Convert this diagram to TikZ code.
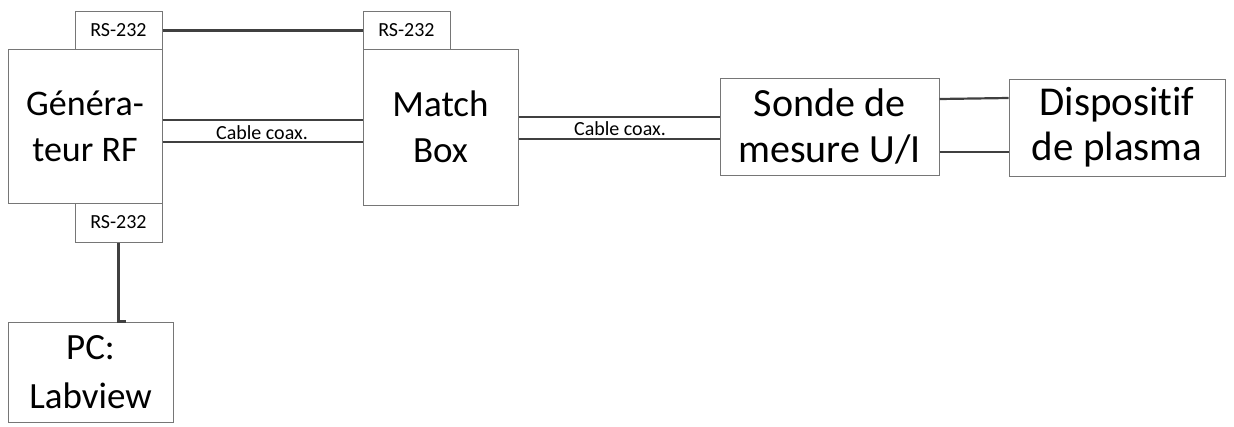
\documentclass[tikz,border=0pt]{standalone}
\usepackage{fontspec}
\setmainfont{Carlito}[Ligatures=NoCommon]
\definecolor{boxgray}{RGB}{118,118,118}
\definecolor{wiregray}{RGB}{64,64,64}
\tikzset{
  bigbox/.style={draw=boxgray, line width=1pt, fill=white, inner sep=0pt, align=center},
  portbox/.style={draw=boxgray, line width=1pt, fill=white, inner sep=0pt,
    font=\fontsize{20}{24}\selectfont},
  wire/.style={draw=wiregray, line width=3pt},
  coax/.style={draw=wiregray, line width=2.2pt},
  cablelabel/.style={font=\fontsize{20}{24}\selectfont, inner sep=0pt, anchor=base}
}
\begin{document}
\begin{tikzpicture}[x=1pt, y=-1pt]
\useasboundingbox (0,0) rectangle (1234,426);
% boxes
\node[bigbox, font=\fontsize{36}{46}\selectfont, minimum width=154pt, minimum height=154pt] (gen) at (85,126) {Généra-\\teur RF};
\node[portbox, minimum width=87pt, minimum height=38pt] (rsg) at (118.5,30) {RS-232};
\node[portbox, minimum width=87pt, minimum height=39pt] (rsb) at (118.5,222.5) {RS-232};
\node[bigbox, font=\fontsize{37}{46}\selectfont, minimum width=155pt, minimum height=156pt] (match) at (440.5,127) {Match\\Box};
\node[portbox, minimum width=87pt, minimum height=38pt] (rsm) at (406.5,30) {RS-232};
\node[bigbox, font=\fontsize{40}{46}\selectfont, minimum width=219pt, minimum height=97pt] (sonde) at (829.5,126.5) {Sonde de\\mesure U/I};
\node[bigbox, font=\fontsize{41}{45}\selectfont, minimum width=216pt, minimum height=97pt] (disp) at (1117,127.5) {Dispositif\\de plasma};
\node[bigbox, font=\fontsize{37}{49}\selectfont, minimum width=165pt, minimum height=100pt] (pc) at (90.5,372) {PC:\\Labview};
% RS-232 link
\draw[wire] (rsg.east) -- (rsm.west);
% coax generator - match box
\draw[coax] ([yshift=6pt]gen.east) -- ([yshift=7pt]match.west);
\draw[coax] ([yshift=-16pt]gen.east) -- ([yshift=-15pt]match.west);
\node[cablelabel] (lab1) at (262,139) {Cable coax.};
% coax match box - sonde
\draw[coax] ([yshift=10pt]match.east) -- ([yshift=9.5pt]sonde.west);
\draw[coax] ([yshift=-12pt]match.east) -- ([yshift=-12.5pt]sonde.west);
\node[cablelabel] (lab2) at (620,135) {Cable coax.};
% sonde - dispositif
\draw[coax] ([yshift=27.5pt]sonde.east) -- ([yshift=29.5pt]disp.west);
\draw[coax] ([yshift=-25.5pt]sonde.east) -- ([yshift=-24.5pt]disp.west);
% RS-232 to PC
\draw[wire] (rsb.south) -- (rsb.south |- pc.north) -- ++(7,0);
\end{tikzpicture}
\end{document}
